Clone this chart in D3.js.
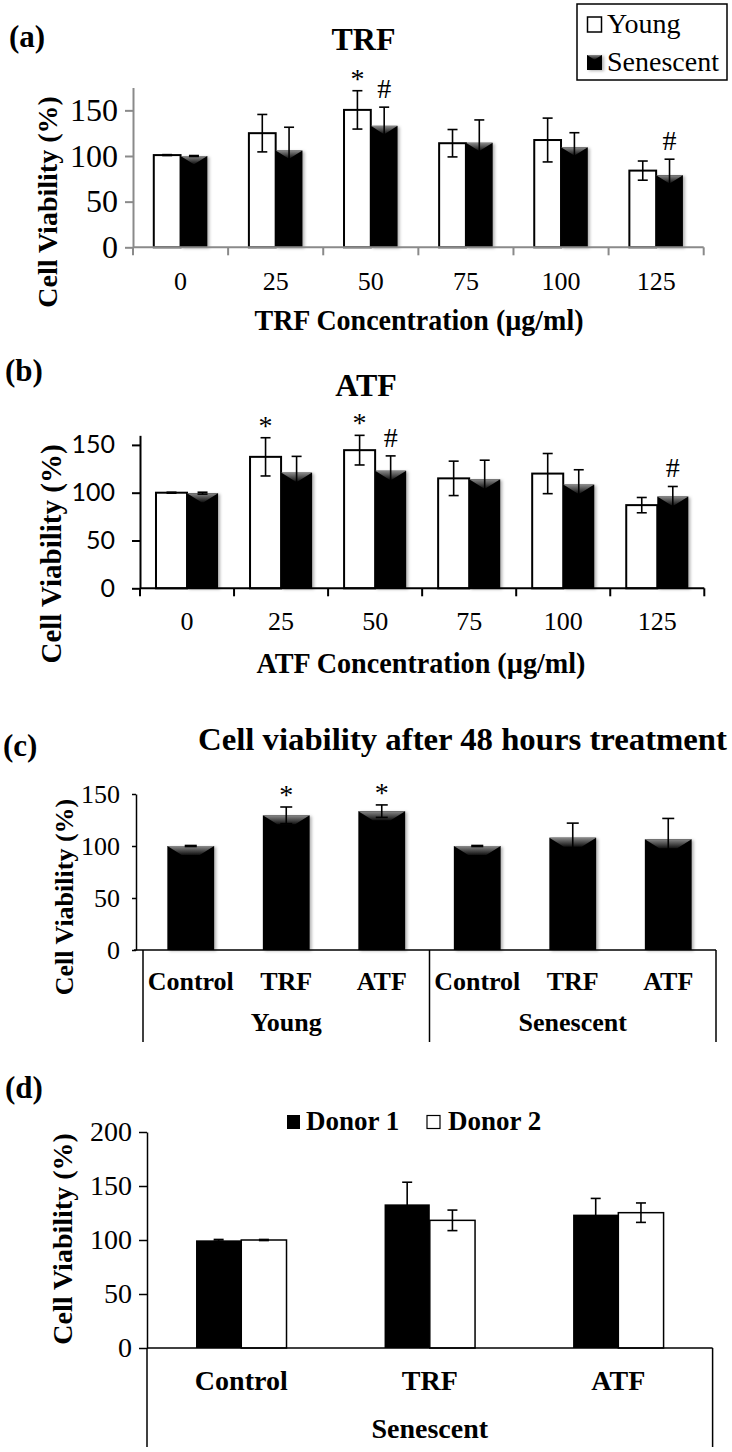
<!DOCTYPE html>
<html><head><meta charset="utf-8">
<script src="https://cdn.jsdelivr.net/npm/d3@7"></script>
<style>body{margin:0;background:#fff} svg{display:block}</style>
</head><body>
<svg id="chart" width="732" height="1452"></svg>
<script>
// ---------------- data ----------------
const concCats = ["0", "25", "50", "75", "100", "125"];
const trfYoung    = [101, 125, 150.5, 114, 117.5, 84];
const trfYoungErr = [0.5, 20.5, 21, 15, 24, 10.5];
const trfSen      = [100, 106, 133, 114.5, 109.5, 79];
const trfSenErr   = [0.5, 25.5, 20.5, 25, 16, 17.5];
const atfYoung    = [100, 137.5, 144.5, 115, 120, 87];
const atfYoungErr = [0.5, 20, 15.5, 18, 21, 8];
const atfSen      = [99.5, 121, 123, 114, 108.5, 96];
const atfSenErr   = [1, 17, 15.5, 20, 15.5, 10.5];
const marksA = [{cat: 2, s: 0, sym: "*"}, {cat: 2, s: 1, sym: "#"}, {cat: 5, s: 1, sym: "#"}];
const marksB = [{cat: 1, s: 0, sym: "*"}, {cat: 2, s: 0, sym: "*"}, {cat: 2, s: 1, sym: "#"}, {cat: 5, s: 1, sym: "#"}];
const seriesNamesAB = ["Young", "Senescent"];
const ticksA = [0, 50, 100, 150];
const ticksB = [0, 50, 100, 150];

const c48Cats   = ["Control", "TRF", "ATF", "Control", "TRF", "ATF"];
const c48Groups = ["Young", "Senescent"];
const c48Values = [100, 129.5, 133.5, 100, 108, 106.5];
const c48Err    = [0.5, 8, 6, 0.5, 14, 20];
const marksC = [{cat: 1, sym: "*"}, {cat: 2, sym: "*"}];
const ticksC = [0, 50, 100, 150];

const donorCats = ["Control", "TRF", "ATF"];
const donorNames = ["Donor 1", "Donor 2"];
const donor1    = [99.7, 133, 123.5];
const donor1Err = [0.8, 20.5, 15];
const donor2    = [100, 118.2, 125.3];
const donor2Err = [0.5, 9.5, 9];
const ticksD = [0, 50, 100, 150, 200];

// ---------------- setup ----------------
const SERIF = "'Liberation Serif','Times New Roman',serif";
const SANS = "Lato,'Open Sans',sans-serif";
const svg = d3.select("#chart");
svg.append("rect").attr("width", 732).attr("height", 1452).attr("fill", "#fff");
const defs = svg.append("defs");
const grad = defs.append("linearGradient").attr("id", "bev").attr("x1", 0).attr("y1", 0).attr("x2", 0).attr("y2", 1);
grad.append("stop").attr("offset", "0%").attr("stop-color", "#8a8a8a");
grad.append("stop").attr("offset", "100%").attr("stop-color", "#111");
const sh = defs.append("filter").attr("id", "shadow").attr("x", "-20%").attr("y", "-20%").attr("width", "150%").attr("height", "150%");
sh.append("feDropShadow").attr("dx", 2).attr("dy", 1).attr("stdDeviation", 1.5).attr("flood-color", "#000").attr("flood-opacity", 0.3);

function text(g, x, y, s, size, opt = {}) {
  const t = g.append("text").attr("x", x).attr("y", y).text(s)
    .attr("font-family", opt.family || SERIF).attr("font-size", size)
    .attr("font-weight", opt.bold ? "bold" : "normal")
    .attr("text-anchor", opt.anchor || "start").attr("fill", "#000");
  if (opt.fit) t.attr("textLength", opt.fit).attr("lengthAdjust", "spacingAndGlyphs");
  return t;
}
function yTitle(g, cx, cy, size) {
  g.append("text").attr("transform", `translate(${cx},${cy}) rotate(-90)`)
    .attr("text-anchor", "middle").attr("dy", "0.35em")
    .attr("font-family", SERIF).attr("font-weight", "bold").attr("font-size", size)
    .text("Cell Viability (%)");
}
function blackBar(g, x, y, w, h, bevel) {
  g.append("rect").attr("x", x).attr("y", y).attr("width", w).attr("height", h)
    .attr("fill", "#000").attr("filter", bevel ? "url(#shadow)" : null);
  if (bevel) {
    const b = Math.min(9, h, w * 0.3);
    g.append("path")
      .attr("d", `M${x},${y}L${x + w},${y}L${x + w - b * 1.6},${y + b}L${x + b * 1.6},${y + b}Z`)
      .attr("fill", "url(#bev)");
  }
}
function whiteBar(g, x, y, w, h, sw) {
  g.append("rect").attr("x", x).attr("y", y).attr("width", w).attr("height", h)
    .attr("fill", "#fff").attr("stroke", "#000").attr("stroke-width", sw);
}
function errBar(g, cx, y, v, e, cap) {
  const y1 = y(v + e), y2 = y(Math.max(0, v - e));
  g.append("line").attr("x1", cx).attr("x2", cx).attr("y1", y1).attr("y2", y2).attr("stroke", "#000").attr("stroke-width", 1.6);
  [y1, y2].forEach(yy => g.append("line").attr("x1", cx - cap).attr("x2", cx + cap).attr("y1", yy).attr("y2", yy)
    .attr("stroke", "#000").attr("stroke-width", 1.6));
}
function marker(g, cx, errTop, sym) {
  const base = sym === "*" ? errTop - 3 : errTop - 9;
  text(g, cx, base, sym, 28, {anchor: "middle"});
}

// ---------------- panels (a) and (b) ----------------
function concPanel(cfg) {
  const g = svg.append("g");
  const x = d3.scaleBand().domain(concCats).range([cfg.left, cfg.right]).paddingInner(cfg.pad).paddingOuter(cfg.pad / 2);
  const xs = d3.scaleBand().domain([0, 1]).range([0, x.bandwidth()]);
  const y = d3.scaleLinear().domain([0, cfg.max]).range([cfg.zero, cfg.zero - cfg.max * cfg.ppu]);
  const series = [{v: cfg.young, e: cfg.youngErr, white: true}, {v: cfg.sen, e: cfg.senErr, white: false}];
  series.forEach((s, si) => {
    concCats.forEach((c, i) => {
      const bx = x(c) + xs(si), by = y(s.v[i]), h = y(0) - by;
      if (s.white) whiteBar(g, bx, by, xs.bandwidth(), h, 2);
      else blackBar(g, bx, by, xs.bandwidth(), h, true);
    });
  });
  series.forEach((s, si) => concCats.forEach((c, i) =>
    errBar(g, x(c) + xs(si) + xs.bandwidth() / 2, y, s.v[i], s.e[i], 5)));
  cfg.marks.forEach(m => {
    const s = series[m.s];
    marker(g, x(concCats[m.cat]) + xs(m.s) + xs.bandwidth() / 2, y(s.v[m.cat] + s.e[m.cat]), m.sym);
  });
  // y axis
  const ya = g.append("g").attr("transform", `translate(${cfg.left},0)`)
    .call(d3.axisLeft(y).tickValues(cfg.ticks).tickSize(8).tickSizeOuter(0).tickPadding(cfg.tickPad));
  ya.selectAll("path,line").attr("stroke", cfg.axisColor).attr("stroke-width", 2);
  ya.selectAll("text").attr("font-family", cfg.tickFamily).attr("font-size", cfg.tickSize).attr("fill", "#000");
  // x axis
  g.append("line").attr("x1", cfg.left).attr("x2", cfg.right).attr("y1", y(0)).attr("y2", y(0))
    .attr("stroke", cfg.axisColor).attr("stroke-width", 2);
  d3.range(concCats.length + 1).forEach(i => {
    const bx = cfg.left + i * x.step();
    g.append("line").attr("x1", bx).attr("x2", bx).attr("y1", y(0)).attr("y2", y(0) + 8)
      .attr("stroke", cfg.axisColor).attr("stroke-width", 2);
  });
  concCats.forEach(c => text(g, x(c) + x.bandwidth() / 2, cfg.xLabelY, c, 26, {anchor: "middle"}));
  text(g, cfg.xTitleX, cfg.xTitleY, cfg.xTitle, 30, {bold: true, anchor: "middle", fit: 329});
  text(g, cfg.titleX, cfg.titleY, cfg.title, 32, {bold: true, anchor: "middle"});
  text(g, cfg.letterX, cfg.letterY, cfg.letter, 31, {bold: true});
  yTitle(g, cfg.yTitleX, cfg.yTitleY, cfg.yTitleSize);
  return g;
}

const gA = concPanel({
  left: 133, right: 703.7, zero: 247.3, max: 175, ppu: 0.913, pad: 0.437,
  young: trfYoung, youngErr: trfYoungErr, sen: trfSen, senErr: trfSenErr, marks: marksA,
  ticks: ticksA, tickPad: 7, tickFamily: SERIF, tickSize: 32, axisColor: "#8a8a8a",
  xLabelY: 290, xTitle: "TRF Concentration (µg/ml)", xTitleX: 419, xTitleY: 330,
  title: "TRF", titleX: 363.5, titleY: 50, letter: "(a)", letterX: 9, letterY: 47,
  yTitleX: 47, yTitleY: 202, yTitleSize: 28
});
// legend (a)
{
  const lg = svg.append("g");
  lg.append("rect").attr("x", 577).attr("y", 4).attr("width", 150).attr("height", 76)
    .attr("fill", "#fff").attr("stroke", "#000").attr("stroke-width", 1.5);
  whiteBar(lg, 587.5, 17, 14, 15, 1.5);
  text(lg, 607, 33, seriesNamesAB[0], 28);
  blackBar(lg, 587, 55, 15, 15, true);
  text(lg, 607, 71, seriesNamesAB[1], 28);
}

const gB = concPanel({
  left: 140, right: 704.3, zero: 588.3, max: 160, ppu: 0.956, pad: 0.34,
  young: atfYoung, youngErr: atfYoungErr, sen: atfSen, senErr: atfSenErr, marks: marksB,
  ticks: ticksB, tickPad: 17, tickFamily: SANS, tickSize: 25, axisColor: "#000",
  xLabelY: 630, xTitle: "ATF Concentration (µg/ml)", xTitleX: 421, xTitleY: 673,
  title: "ATF", titleX: 366, titleY: 396, letter: "(b)", letterX: 5, letterY: 381,
  yTitleX: 51, yTitleY: 554, yTitleSize: 29
});

// ---------------- panel (c) ----------------
{
  const g = svg.append("g");
  const axisX = 136, left = 143, right = 716, zero = 950, ppu = 1.04, max = 150;
  const x = d3.scaleBand().domain(d3.range(c48Cats.length)).range([left, right]).paddingInner(0.51).paddingOuter(0.255);
  const y = d3.scaleLinear().domain([0, max]).range([zero, zero - max * ppu]);
  c48Values.forEach((v, i) => blackBar(g, x(i), y(v), x.bandwidth(), y(0) - y(v), true));
  c48Values.forEach((v, i) => errBar(g, x(i) + x.bandwidth() / 2, y, v, c48Err[i], 6));
  marksC.forEach(m => marker(g, x(m.cat) + x.bandwidth() / 2, y(c48Values[m.cat] + c48Err[m.cat]), m.sym));
  const ya = g.append("g").attr("transform", `translate(${axisX},0)`)
    .call(d3.axisLeft(y).tickValues(ticksC).tickSize(4).tickSizeOuter(0).tickPadding(12));
  ya.selectAll("path,line").attr("stroke", "#000").attr("stroke-width", 1.5);
  ya.selectAll("text").attr("font-family", SERIF).attr("font-size", 26).attr("fill", "#000");
  g.append("line").attr("x1", axisX - 2).attr("x2", right).attr("y1", zero).attr("y2", zero).attr("stroke", "#000").attr("stroke-width", 1.5);
  [0, 3, 6].forEach(k => {
    const bx = left + k * x.step();
    g.append("line").attr("x1", bx).attr("x2", bx).attr("y1", zero).attr("y2", 1042).attr("stroke", "#000").attr("stroke-width", 1.5);
  });
  c48Cats.forEach((c, i) => text(g, x(i) + x.bandwidth() / 2, 990, c, 26, {bold: true, anchor: "middle"}));
  c48Groups.forEach((gr, k) => text(g, left + (k * 3 + 1.5) * x.step(), 1031, gr, 26, {bold: true, anchor: "middle"}));
  text(g, 462.5, 750, "Cell viability after 48 hours treatment", 31, {bold: true, anchor: "middle", fit: 529});
  text(g, 3, 756, "(c)", 31, {bold: true});
  yTitle(g, 64, 897, 26);
}

// ---------------- panel (d) ----------------
{
  const g = svg.append("g");
  const left = 147, right = 712.6, zero = 1348, ppu = 1.08, max = 200;
  const x = d3.scaleBand().domain(donorCats).range([left, right]).paddingInner(0.52).paddingOuter(0.26);
  const xs = d3.scaleBand().domain([0, 1]).range([0, x.bandwidth()]);
  const y = d3.scaleLinear().domain([0, max]).range([zero, zero - max * ppu]);
  donorCats.forEach((c, i) => {
    blackBar(g, x(c), y(donor1[i]), xs.bandwidth(), y(0) - y(donor1[i]), false);
    whiteBar(g, x(c) + xs(1), y(donor2[i]), xs.bandwidth(), y(0) - y(donor2[i]), 1.5);
  });
  donorCats.forEach((c, i) => {
    errBar(g, x(c) + xs.bandwidth() / 2, y, donor1[i], donor1Err[i], 5);
    errBar(g, x(c) + xs(1) + xs.bandwidth() / 2, y, donor2[i], donor2Err[i], 5);
  });
  const ya = g.append("g").attr("transform", `translate(${left},0)`)
    .call(d3.axisLeft(y).tickValues(ticksD).tickSize(8).tickSizeOuter(0).tickPadding(7));
  ya.selectAll("path,line").attr("stroke", "#000").attr("stroke-width", 1.5);
  ya.selectAll("text").attr("font-family", SERIF).attr("font-size", 28).attr("fill", "#000");
  g.append("line").attr("x1", left).attr("x2", right).attr("y1", zero).attr("y2", zero).attr("stroke", "#000").attr("stroke-width", 1.5);
  [left, right].forEach(bx => g.append("line").attr("x1", bx).attr("x2", bx).attr("y1", zero).attr("y2", 1447)
    .attr("stroke", "#000").attr("stroke-width", 1.5));
  donorCats.forEach(c => text(g, x(c) + x.bandwidth() / 2, 1390, c, 28, {bold: true, anchor: "middle"}));
  text(g, (left + right) / 2, 1438, "Senescent", 28, {bold: true, anchor: "middle"});
  // legend
  g.append("rect").attr("x", 287).attr("y", 1115).attr("width", 13).attr("height", 14).attr("fill", "#000");
  text(g, 306, 1130, donorNames[0], 27, {bold: true});
  g.append("rect").attr("x", 427).attr("y", 1115.5).attr("width", 13).attr("height", 13)
    .attr("fill", "#fff").attr("stroke", "#000").attr("stroke-width", 1.2);
  text(g, 448, 1130, donorNames[1], 27, {bold: true});
  text(g, 5, 1098, "(d)", 31, {bold: true});
  yTitle(g, 62, 1239, 28);
}
</script>
</body></html>
